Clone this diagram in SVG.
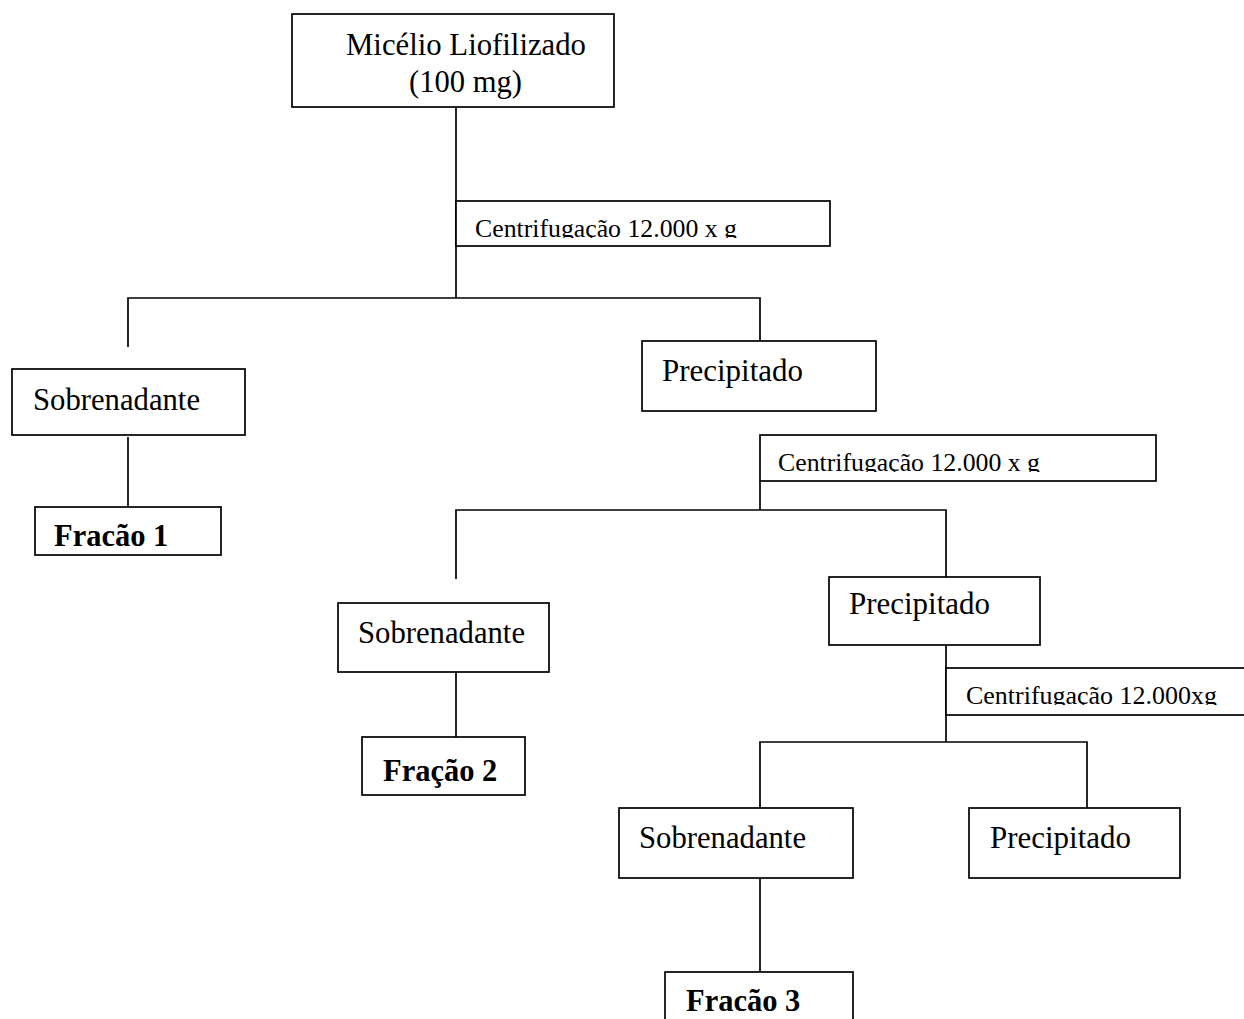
<svg xmlns="http://www.w3.org/2000/svg" width="1244" height="1019" viewBox="0 0 1244 1019">
<style>
.box{fill:#fff;stroke:#000;stroke-width:1.7}
.ln{fill:none;stroke:#000;stroke-width:1.7}
.t{font-family:"Liberation Serif","Times New Roman",serif;font-size:32px;fill:#000}
.b{font-family:"Liberation Serif","Times New Roman",serif;font-size:30.5px;font-weight:bold;fill:#000}
.c{font-family:"Liberation Serif","Times New Roman",serif;font-size:26px;fill:#000}
</style>
<defs>
<clipPath id="clip1"><rect x="456" y="201" width="374" height="37"/></clipPath>
<clipPath id="clip2"><rect x="760" y="435" width="396" height="37"/></clipPath>
<clipPath id="clip3"><rect x="946" y="668" width="298" height="37"/></clipPath>
</defs>
<rect width="1244" height="1019" fill="#fff"/>
<g id="connectors">
<polyline class="ln" points="456,107 456,298"/>
<polyline class="ln" points="128,347 128,298 760,298 760,342"/>
<polyline class="ln" points="128,437 128,509"/>
<polyline class="ln" points="760,481 760,510"/>
<polyline class="ln" points="456,579 456,510 946,510 946,580"/>
<polyline class="ln" points="456,672 456,739"/>
<polyline class="ln" points="946,645 946,742"/>
<polyline class="ln" points="760,810 760,742 1087,742 1087,810"/>
<polyline class="ln" points="760,878 760,974"/>
</g>
<g id="n_micelio">
<rect class="box" x="292" y="14" width="322" height="93"/>
<text class="t" x="346" y="55" textLength="240" lengthAdjust="spacingAndGlyphs">Micélio Liofilizado</text>
<text class="t" x="409" y="92" textLength="113" lengthAdjust="spacingAndGlyphs">(100 mg)</text>
</g>
<g id="n_centrif1">
<rect class="box" x="456" y="201" width="374" height="45"/>
<text class="c" x="475" y="237" clip-path="url(#clip1)" textLength="262" lengthAdjust="spacingAndGlyphs">Centrifugação 12.000 x g</text>
</g>
<g id="n_sobren1">
<rect class="box" x="12" y="369" width="233" height="66"/>
<text class="t" x="33" y="410" textLength="167" lengthAdjust="spacingAndGlyphs">Sobrenadante</text>
</g>
<g id="n_frac1">
<rect class="box" x="35" y="507" width="186" height="48"/>
<text class="b" x="54" y="546">Fracão 1</text>
</g>
<g id="n_precip1">
<rect class="box" x="642" y="341" width="234" height="70"/>
<text class="t" x="662" y="381" textLength="141" lengthAdjust="spacingAndGlyphs">Precipitado</text>
</g>
<g id="n_centrif2">
<rect class="box" x="760" y="435" width="396" height="46"/>
<text class="c" x="778" y="471" clip-path="url(#clip2)" textLength="262" lengthAdjust="spacingAndGlyphs">Centrifugação 12.000 x g</text>
</g>
<g id="n_sobren2">
<rect class="box" x="338" y="603" width="211" height="69"/>
<text class="t" x="358" y="643" textLength="167" lengthAdjust="spacingAndGlyphs">Sobrenadante</text>
</g>
<g id="n_frac2">
<rect class="box" x="362" y="737" width="163" height="58"/>
<text class="b" x="383" y="781">Fração 2</text>
</g>
<g id="n_precip2">
<rect class="box" x="829" y="577" width="211" height="68"/>
<text class="t" x="849" y="614" textLength="141" lengthAdjust="spacingAndGlyphs">Precipitado</text>
</g>
<g id="n_centrif3">
<rect class="box" x="946" y="668" width="310" height="47"/>
<text class="c" x="966" y="704" clip-path="url(#clip3)" textLength="251" lengthAdjust="spacingAndGlyphs">Centrifugação 12.000xg</text>
</g>
<g id="n_sobren3">
<rect class="box" x="619" y="808" width="234" height="70"/>
<text class="t" x="639" y="848" textLength="167" lengthAdjust="spacingAndGlyphs">Sobrenadante</text>
</g>
<g id="n_precip3">
<rect class="box" x="969" y="808" width="211" height="70"/>
<text class="t" x="990" y="848" textLength="141" lengthAdjust="spacingAndGlyphs">Precipitado</text>
</g>
<g id="n_frac3">
<rect class="box" x="665" y="972" width="188" height="60"/>
<text class="b" x="686" y="1011">Fracão 3</text>
</g>
</svg>
